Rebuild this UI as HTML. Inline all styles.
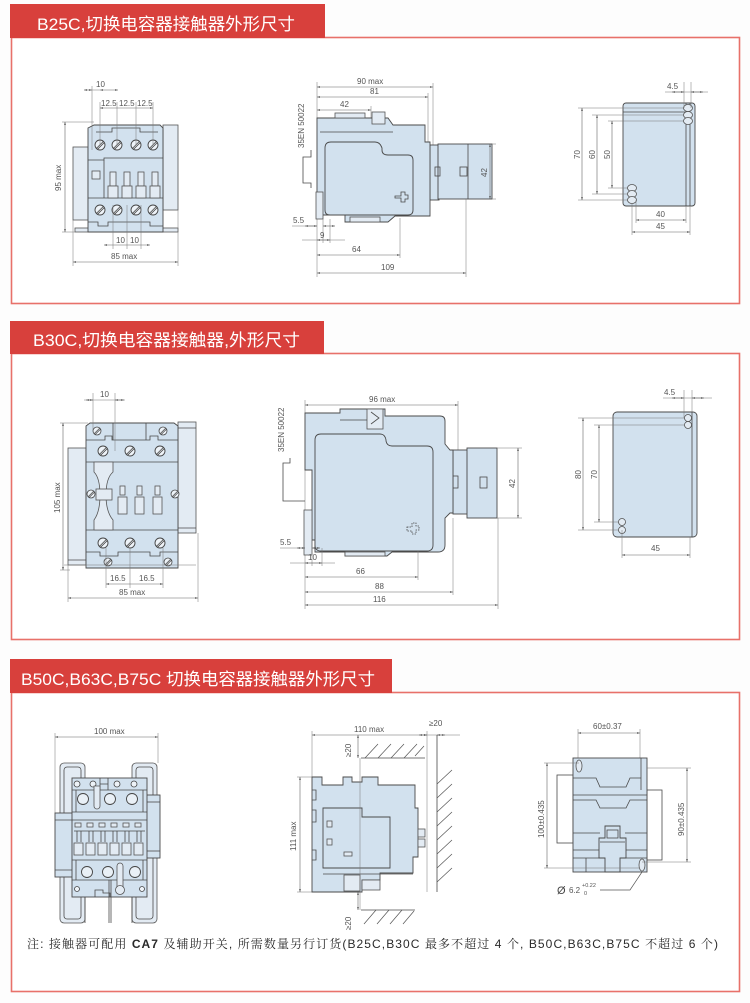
<!DOCTYPE html>
<html><head><meta charset="utf-8"><style>
html,body{margin:0;padding:0;background:#fff;}
svg{display:block;}
.b{fill:#d2e1ee;stroke:#4a4a4a;stroke-width:.9}
.g{fill:#e3ebf3;stroke:#555;stroke-width:.8}
.o{fill:none;stroke:#4a4a4a;stroke-width:.8}
.dm{stroke:#666;stroke-width:.6;fill:none;marker-start:url(#ar);marker-end:url(#ar)}
.ex{stroke:#777;stroke-width:.5;fill:none}
.h{stroke:#555;stroke-width:.7}
.t{font-family:"Liberation Sans",sans-serif;font-size:8px;fill:#555}
.hd{font-family:"Liberation Sans","Noto Sans CJK SC",sans-serif;font-size:17px;fill:#fff}
.nt{font-family:"Liberation Sans","Noto Serif CJK SC",serif;font-size:12px;fill:#2a2a2a}
</style></head><body>
<svg width="750" height="1003" viewBox="0 0 750 1003" xmlns="http://www.w3.org/2000/svg">
<defs>
<marker id="ar" viewBox="0 0 6 6" refX="6" refY="3" markerWidth="5" markerHeight="5" orient="auto-start-reverse"><path d="M0,1.2 L6,3 L0,4.8z" fill="#555"/></marker>
<g id="sc"><circle r="5" fill="#eef3f8" stroke="#444" stroke-width=".9"/><line x1="-3.6" y1="3.4" x2="3.4" y2="-3.6" stroke="#444" stroke-width=".8"/><line x1="-2.4" y1="4.2" x2="4.2" y2="-2.4" stroke="#444" stroke-width=".8"/></g>
<g id="ss"><circle r="4" fill="#eef3f8" stroke="#444" stroke-width=".8"/><line x1="-2.8" y1="2.6" x2="2.6" y2="-2.8" stroke="#444" stroke-width=".7"/><line x1="-1.8" y1="3.4" x2="3.4" y2="-1.8" stroke="#444" stroke-width=".7"/></g>
<g id="cc"><circle r="5.5" fill="#e9f0f6" stroke="#444" stroke-width=".9"/></g>
</defs>
<rect width="750" height="1003" fill="#fdfdfd"/>

<!-- ================= PANEL 1 ================= -->
<rect x="11.5" y="37.5" width="728" height="266" fill="#fff" stroke="#e8716a" stroke-width="1.6"/>
<rect x="10" y="4" width="315" height="34" fill="#d8403c"/>
<text class="hd" x="37" y="30" textLength="258" lengthAdjust="spacingAndGlyphs">B25C,切换电容器接触器外形尺寸</text>

<!-- P1 front view -->
<rect x="73" y="147" width="15" height="73" class="g"/>
<rect x="163" y="125" width="15" height="85" class="g"/>
<rect x="75" y="228" width="103" height="4" class="g"/>
<path class="b" d="M88,128 L94,125 H160 L163,128 V232 H88 Z"/>
<path class="o" d="M96,132 H112 V128 H140 V132 H158"/>
<path class="o" d="M88,160 H104 V158 H163"/>
<path class="o" d="M104,160 V198 M88,198 H163"/>
<rect x="92" y="171" width="8" height="8" class="g"/>
<use href="#sc" x="100" y="145"/><use href="#sc" x="117" y="145"/><use href="#sc" x="136" y="145"/><use href="#sc" x="153" y="145"/>
<g class="g">
<rect x="110" y="172" width="6" height="14"/><rect x="108" y="186" width="10" height="12"/>
<rect x="124" y="172" width="6" height="14"/><rect x="122" y="186" width="10" height="12"/>
<rect x="138" y="172" width="6" height="14"/><rect x="136" y="186" width="10" height="12"/>
<rect x="152" y="172" width="6" height="14"/><rect x="150" y="186" width="10" height="12"/>
</g>
<use href="#sc" x="100" y="210"/><use href="#sc" x="117" y="210"/><use href="#sc" x="136" y="210"/><use href="#sc" x="153" y="210"/>
<path class="o" d="M88,222 H98 V226 H108 V222 H150 V226 H163"/>
<!-- dims -->
<line class="ex" x1="92" y1="86" x2="92" y2="150"/><line class="ex" x1="100" y1="102" x2="100" y2="145"/>
<line class="ex" x1="117" y1="102" x2="117" y2="145"/><line class="ex" x1="136" y1="102" x2="136" y2="145"/><line class="ex" x1="153" y1="102" x2="153" y2="145"/>
<line class="dm" x1="84" y1="90" x2="92" y2="90"/><line class="dm" x1="118" y1="90" x2="100" y2="90"/>
<line class="ex" x1="92" y1="90" x2="100" y2="90"/>
<text class="t" x="96" y="87">10</text>
<line class="dm" x1="100" y1="108" x2="153" y2="108"/>
<text class="t" x="101" y="106">12.5</text><text class="t" x="119" y="106">12.5</text><text class="t" x="137" y="106">12.5</text>
<line class="ex" x1="62" y1="122" x2="94" y2="122"/><line class="ex" x1="62" y1="232" x2="75" y2="232"/>
<line class="dm" x1="65" y1="122" x2="65" y2="232"/>
<text class="t" transform="translate(61,191) rotate(-90)">95 max</text>
<line class="ex" x1="113" y1="205" x2="113" y2="249"/><line class="ex" x1="127" y1="205" x2="127" y2="249"/><line class="ex" x1="141" y1="205" x2="141" y2="249"/>
<line class="dm" x1="104" y1="245" x2="150" y2="245"/>
<text class="t" x="116" y="243">10</text><text class="t" x="130" y="243">10</text>
<line class="ex" x1="73" y1="220" x2="73" y2="266"/><line class="ex" x1="178" y1="210" x2="178" y2="266"/>
<line class="dm" x1="73" y1="262" x2="178" y2="262"/>
<text class="t" x="111" y="259">85  max</text>

<!-- P1 side view -->
<line class="ex" x1="317" y1="82" x2="317" y2="277"/>
<line class="dm" x1="317" y1="87" x2="433" y2="87"/><text class="t" x="357" y="84">90 max</text>
<line class="ex" x1="433" y1="83" x2="433" y2="148"/>
<line class="dm" x1="317" y1="97" x2="428" y2="97"/><text class="t" x="370" y="94">81</text>
<line class="ex" x1="428" y1="93" x2="428" y2="142"/>
<line class="dm" x1="317" y1="110" x2="371" y2="110"/><text class="t" x="340" y="107">42</text>
<line class="ex" x1="371" y1="106" x2="371" y2="142"/>
<text class="t" transform="translate(304,148) rotate(-90)">35EN 50022</text>
<path class="o" d="M311,150 V157 H303 V183 H311 V188"/>
<rect x="430" y="145" width="9" height="55" class="b"/>
<rect x="438" y="144" width="54" height="55" class="b"/>
<line class="o" x1="468" y1="144" x2="468" y2="199"/>
<rect x="460" y="167" width="7" height="9" class="o"/>
<rect x="435" y="167" width="5" height="9" class="o"/>
<path class="b" d="M317,118 H388 L393,125 H425 V142 H430 V216 H395 L388,222 H345 V215 H320 V205 H317 Z"/>
<rect x="335" y="113" width="30" height="5" class="g"/>
<rect x="372" y="112" width="13" height="12" class="g"/>
<line class="o" x1="320" y1="132" x2="393" y2="132"/>
<path class="b" d="M325,148 Q325,142 331,142 H375 Q380,142 382,148 V150 Q382,155 388,155 H408 Q413,155 413,160 V210 Q413,215 408,215 H330 Q325,215 325,210 Z"/>
<path class="o" d="M395,196 h6 v-4 h4 v3 h3 v4 h-3 v3 h-4 v-4 h-6 z"/>
<rect x="316" y="192" width="7" height="27" class="g"/>
<rect x="350" y="217" width="30" height="5" class="g"/>
<line class="ex" x1="492" y1="144" x2="496" y2="144"/><line class="ex" x1="492" y1="199" x2="496" y2="199"/>
<line class="dm" x1="490" y1="144" x2="490" y2="199"/>
<text class="t" transform="translate(487,177) rotate(-90)">42</text>
<line class="ex" x1="323" y1="219" x2="323" y2="243"/><line class="ex" x1="330" y1="219" x2="330" y2="243"/>
<line class="ex" x1="292" y1="226" x2="317" y2="226"/><line class="dm" x1="305" y1="226" x2="317" y2="226"/><line class="dm" x1="335" y1="226" x2="323" y2="226"/>
<text class="t" x="293" y="223">5.5</text>
<line class="ex" x1="302" y1="240" x2="345" y2="240"/><line class="dm" x1="317" y1="240" x2="330" y2="240"/>
<text class="t" x="320" y="238">9</text>
<line class="ex" x1="400" y1="218" x2="400" y2="258"/>
<line class="dm" x1="317" y1="255" x2="400" y2="255"/><text class="t" x="352" y="252">64</text>
<line class="ex" x1="466" y1="199" x2="466" y2="277"/>
<line class="dm" x1="317" y1="273" x2="466" y2="273"/><text class="t" x="381" y="270">109</text>

<!-- P1 mounting -->
<rect x="623" y="103" width="72" height="103" rx="3" class="b"/>
<line class="o" x1="686" y1="103" x2="686" y2="206"/><line class="o" x1="690" y1="103" x2="690" y2="206"/>
<line class="o" x1="623" y1="112" x2="686" y2="112"/>
<line class="ex" x1="578" y1="108" x2="688" y2="108"/><line class="ex" x1="592" y1="115" x2="688" y2="115"/><line class="ex" x1="608" y1="121" x2="688" y2="121"/>
<line class="ex" x1="608" y1="188" x2="632" y2="188"/><line class="ex" x1="592" y1="194" x2="632" y2="194"/><line class="ex" x1="578" y1="200" x2="632" y2="200"/>
<g class="g"><ellipse cx="688" cy="108" rx="4.5" ry="3.5"/><ellipse cx="688" cy="115" rx="4.5" ry="3.5"/><ellipse cx="688" cy="121" rx="4.5" ry="3.5"/>
<ellipse cx="632" cy="188" rx="4.5" ry="3.5"/><ellipse cx="632" cy="194" rx="4.5" ry="3.5"/><ellipse cx="632" cy="200" rx="4.5" ry="3.5"/></g>
<line class="dm" x1="582" y1="108" x2="582" y2="200"/><text class="t" transform="translate(580,159) rotate(-90)">70</text>
<line class="dm" x1="597" y1="115" x2="597" y2="194"/><text class="t" transform="translate(595,159) rotate(-90)">60</text>
<line class="dm" x1="612" y1="121" x2="612" y2="188"/><text class="t" transform="translate(610,159) rotate(-90)">50</text>
<line class="ex" x1="684" y1="82" x2="684" y2="108"/><line class="ex" x1="691" y1="82" x2="691" y2="108"/>
<line class="ex" x1="665" y1="92" x2="708" y2="92"/><line class="dm" x1="672" y1="92" x2="684" y2="92"/><line class="dm" x1="703" y1="92" x2="691" y2="92"/>
<text class="t" x="667" y="89">4.5</text>
<line class="ex" x1="636" y1="200" x2="636" y2="223"/><line class="ex" x1="686" y1="206" x2="686" y2="223"/>
<line class="dm" x1="636" y1="220" x2="686" y2="220"/><text class="t" x="656" y="217">40</text>
<line class="ex" x1="632" y1="204" x2="632" y2="235"/><line class="ex" x1="690" y1="206" x2="690" y2="235"/>
<line class="dm" x1="632" y1="232" x2="690" y2="232"/><text class="t" x="656" y="229">45</text>

<!-- ================= PANEL 2 ================= -->
<rect x="11.5" y="353.5" width="728" height="286" fill="#fff" stroke="#e8716a" stroke-width="1.6"/>
<rect x="10" y="321" width="314" height="33" fill="#d8403c"/>
<text class="hd" x="33" y="346" textLength="267" lengthAdjust="spacingAndGlyphs">B30C,切换电容器接触器,外形尺寸</text>

<!-- P2 front -->
<rect x="68" y="448" width="18" height="117" class="g"/>
<rect x="178" y="422" width="18" height="111" class="g"/>
<line class="o" x1="68" y1="560" x2="86" y2="560"/><line class="o" x1="178" y1="428" x2="196" y2="428"/><line class="o" x1="178" y1="528" x2="196" y2="528"/>
<path class="b" d="M86,426 L90,423 H174 L178,426 V568 H86 Z"/>
<path class="o" d="M86,440 H105 V436 H112 V440 H150 V436 H158 V440 H178"/>
<path class="o" d="M86,462 H178 M86,530 H178 M86,552 H100 V556 H118 V552 H150 V556 H160 V552 H178"/>
<path class="o" d="M113,423 V440 M146,423 V440"/>
<use href="#ss" x="97" y="431"/><use href="#ss" x="163" y="431"/>
<use href="#sc" x="103" y="451"/><use href="#sc" x="130" y="451"/><use href="#sc" x="160" y="451"/>
<path class="g" d="M94,462 H113 V472 Q106,478 106,495 Q106,512 113,520 V530 H94 V520 Q100,512 100,495 Q100,478 94,472 Z"/>
<rect x="96" y="489" width="16" height="11" class="g"/>
<use href="#ss" x="91" y="494"/><use href="#ss" x="175" y="494"/>
<g class="g">
<rect x="120" y="486" width="5" height="9"/><rect x="118" y="497" width="9" height="17"/>
<rect x="137" y="486" width="5" height="9"/><rect x="135" y="497" width="9" height="17"/>
<rect x="155" y="486" width="5" height="9"/><rect x="153" y="497" width="9" height="17"/>
</g>
<use href="#sc" x="103" y="543"/><use href="#sc" x="130" y="543"/><use href="#sc" x="160" y="543"/>
<use href="#ss" x="108" y="562"/><use href="#ss" x="168" y="562"/>
<line class="ex" x1="64" y1="565" x2="196" y2="565"/>
<!-- dims -->
<line class="ex" x1="93" y1="393" x2="93" y2="431"/><line class="ex" x1="115" y1="393" x2="115" y2="451"/>
<line class="ex" x1="84" y1="400" x2="125" y2="400"/><line class="dm" x1="86" y1="400" x2="93" y2="400"/><line class="dm" x1="124" y1="400" x2="115" y2="400"/>
<text class="t" x="100" y="397">10</text>
<line class="ex" x1="60" y1="423" x2="88" y2="423"/><line class="ex" x1="60" y1="570" x2="70" y2="570"/>
<line class="dm" x1="63" y1="423" x2="63" y2="570"/>
<text class="t" transform="translate(60,513) rotate(-90)">105 max</text>
<line class="ex" x1="106" y1="548" x2="106" y2="588"/><line class="ex" x1="130" y1="548" x2="130" y2="588"/><line class="ex" x1="163" y1="548" x2="163" y2="588"/>
<line class="dm" x1="106" y1="584" x2="163" y2="584"/>
<text class="t" x="110" y="581">16.5</text><text class="t" x="139" y="581">16.5</text>
<line class="ex" x1="68" y1="565" x2="68" y2="602"/><line class="ex" x1="198" y1="533" x2="198" y2="602"/>
<line class="dm" x1="68" y1="598" x2="198" y2="598"/>
<text class="t" x="119" y="595">85  max</text>

<!-- P2 side -->
<line class="ex" x1="305" y1="400" x2="305" y2="609"/>
<line class="dm" x1="305" y1="405" x2="458" y2="405"/><text class="t" x="369" y="402">96 max</text>
<line class="ex" x1="458" y1="401" x2="458" y2="450"/>
<text class="t" transform="translate(284,452) rotate(-90)">35EN 50022</text>
<path class="o" d="M290,458 V463 H283 V501 H305"/>
<rect x="453" y="450" width="15" height="64" class="b"/>
<rect x="467" y="448" width="30" height="70" class="b"/>
<rect x="480" y="477" width="7" height="11" class="o"/>
<rect x="453" y="476" width="5" height="12" class="o"/>
<path class="b" d="M305,413 H340 V409 H385 V416 H440 Q445,416 445,421 V444 L450,450 H453 V513 H450 L445,518 V545 Q445,552 438,552 H392 L387,556 H345 V552 H315 V540 H312 V470 H305 Z"/>
<rect x="367" y="409" width="16" height="20" class="g"/>
<path class="o" d="M371,412 l8,6 l-8,6 M340,420 H367"/>
<path class="b" d="M315,440 Q315,434 321,434 H380 Q385,434 386,440 V441 Q387,446 392,446 H427 Q433,446 433,452 V545 Q433,551 427,551 H321 Q315,551 315,545 Z"/>
<path class="o" d="M407,527 h5 v-4 h4 v3 h3 v4 h-3 v4 h-4 v-3 h-5 z" stroke-dasharray="1.5 1"/>
<rect x="304" y="510" width="8" height="45" class="g"/>
<rect x="345" y="552" width="40" height="4" class="g"/>
<line class="ex" x1="497" y1="448" x2="522" y2="448"/><line class="ex" x1="497" y1="518" x2="522" y2="518"/>
<line class="dm" x1="518" y1="448" x2="518" y2="518"/>
<text class="t" transform="translate(515,488) rotate(-90)">42</text>
<line class="ex" x1="312" y1="548" x2="312" y2="566"/><line class="ex" x1="322" y1="548" x2="322" y2="566"/>
<line class="ex" x1="280" y1="548" x2="305" y2="548"/><line class="dm" x1="297" y1="548" x2="305" y2="548"/><line class="dm" x1="320" y1="548" x2="312" y2="548"/>
<text class="t" x="280" y="545">5.5</text>
<line class="ex" x1="290" y1="563" x2="335" y2="563"/><line class="dm" x1="305" y1="563" x2="322" y2="563"/>
<text class="t" x="308" y="560">10</text>
<line class="ex" x1="418" y1="551" x2="418" y2="580"/>
<line class="dm" x1="305" y1="577" x2="418" y2="577"/><text class="t" x="356" y="574">66</text>
<line class="ex" x1="453" y1="518" x2="453" y2="595"/>
<line class="dm" x1="305" y1="592" x2="453" y2="592"/><text class="t" x="375" y="589">88</text>
<line class="ex" x1="498" y1="518" x2="498" y2="609"/>
<line class="dm" x1="305" y1="605" x2="498" y2="605"/><text class="t" x="373" y="602">116</text>

<!-- P2 mounting -->
<rect x="613" y="412" width="84" height="125" rx="4" class="b"/>
<line class="o" x1="692" y1="412" x2="692" y2="537"/>
<line class="ex" x1="578" y1="418" x2="688" y2="418"/><line class="ex" x1="594" y1="425" x2="688" y2="425"/>
<line class="ex" x1="594" y1="522" x2="622" y2="522"/><line class="ex" x1="578" y1="530" x2="622" y2="530"/>
<g class="g"><circle cx="688" cy="418" r="3.5"/><circle cx="688" cy="425" r="3.5"/><circle cx="622" cy="522" r="3.5"/><circle cx="622" cy="530" r="3.5"/></g>
<line class="dm" x1="583" y1="418" x2="583" y2="530"/><text class="t" transform="translate(581,479) rotate(-90)">80</text>
<line class="dm" x1="599" y1="425" x2="599" y2="522"/><text class="t" transform="translate(597,479) rotate(-90)">70</text>
<line class="ex" x1="684" y1="390" x2="684" y2="418"/><line class="ex" x1="692" y1="390" x2="692" y2="412"/>
<line class="ex" x1="663" y1="398" x2="712" y2="398"/><line class="dm" x1="672" y1="398" x2="684" y2="398"/><line class="dm" x1="704" y1="398" x2="692" y2="398"/>
<text class="t" x="664" y="395">4.5</text>
<line class="ex" x1="622" y1="530" x2="622" y2="558"/><line class="ex" x1="690" y1="537" x2="690" y2="558"/>
<line class="dm" x1="622" y1="555" x2="690" y2="555"/><text class="t" x="651" y="551">45</text>

<!-- ================= PANEL 3 ================= -->
<rect x="11.5" y="692.5" width="728" height="299" fill="#fff" stroke="#e8716a" stroke-width="1.6"/>
<rect x="10" y="659" width="382" height="34" fill="#d8403c"/>
<text class="hd" x="21" y="685" textLength="354" lengthAdjust="spacingAndGlyphs">B50C,B63C,B75C 切换电容器接触器外形尺寸</text>

<!-- P3 front -->
<line class="ex" x1="55" y1="733" x2="55" y2="813"/><line class="ex" x1="158" y1="733" x2="158" y2="763"/>
<line class="dm" x1="55" y1="737" x2="158" y2="737"/><text class="t" x="94" y="734">100 max</text>
<rect x="60" y="763" width="25" height="160" rx="4" class="g"/>
<rect x="64" y="767" width="17" height="152" rx="3" class="o"/>
<rect x="132" y="763" width="25" height="160" rx="4" class="g"/>
<rect x="136" y="767" width="17" height="152" rx="3" class="o"/>
<rect x="55" y="813" width="19" height="64" class="b"/>
<line class="o" x1="55" y1="820" x2="74" y2="820"/><line class="o" x1="55" y1="870" x2="74" y2="870"/>
<rect x="145" y="795" width="15" height="63" class="b"/>
<line class="o" x1="145" y1="802" x2="160" y2="802"/><line class="o" x1="145" y1="851" x2="160" y2="851"/>
<rect x="72" y="778" width="75" height="119" class="b"/>
<path class="o" d="M72,790 H147 M76,790 V812 M143,790 V812 M72,812 H147 M72,820 H147 M72,860 H147 M72,880 H147 M76,860 V880 M143,860 V880"/>
<path class="o" d="M100,778 V790 M108,778 V790 M100,784 H108"/>
<g fill="#eef3f8" stroke="#444" stroke-width=".8"><circle cx="77" cy="784" r="3"/><circle cx="93" cy="784" r="3"/><circle cx="117" cy="784" r="3"/><circle cx="134" cy="784" r="3"/></g>
<use href="#cc" x="83" y="799"/><use href="#cc" x="110" y="799"/><use href="#cc" x="132" y="799"/>
<path class="g" d="M94,786 V806 A3,3 0 0 0 100,806 V786 Z"/>
<g class="g"><rect x="75" y="823" width="6" height="4"/><rect x="87" y="823" width="6" height="4"/><rect x="99" y="823" width="6" height="4"/><rect x="111" y="823" width="6" height="4"/><rect x="123" y="823" width="6" height="4"/><rect x="135" y="823" width="6" height="4"/></g>
<path class="o" d="M74,831 H145 M77,831 V842 M81,831 V842 M89,831 V842 M93,831 V842 M101,831 V842 M105,831 V842 M113,831 V842 M117,831 V842 M125,831 V842 M129,831 V842 M137,831 V842 M141,831 V842"/>
<g class="g"><rect x="74" y="843" width="9" height="12"/><rect x="86" y="843" width="9" height="12"/><rect x="98" y="843" width="9" height="12"/><rect x="110" y="843" width="9" height="12"/><rect x="122" y="843" width="9" height="12"/><rect x="134" y="843" width="9" height="12"/></g>
<use href="#cc" x="87" y="872"/><use href="#cc" x="108" y="872"/><use href="#cc" x="135" y="872"/>
<path class="g" d="M117,890 V866 A3,3 0 0 1 123,866 V890 Z"/>
<circle cx="120" cy="890" r="4.5" class="g"/>
<g fill="#eef3f8" stroke="#444" stroke-width=".8"><circle cx="77" cy="889" r="2.5"/><circle cx="142" cy="889" r="2.5"/></g>
<path class="o" d="M95,897 V890 H103 V893 H110 V897"/>
<line class="o" x1="109" y1="880" x2="109" y2="923"/><line class="o" x1="111" y1="880" x2="111" y2="923"/>
<path class="o" d="M85,897 V923 M132,897 V923"/>

<!-- P3 side -->
<line class="ex" x1="312" y1="731" x2="312" y2="777"/><line class="ex" x1="427" y1="731" x2="427" y2="892"/>
<line class="dm" x1="312" y1="735" x2="427" y2="735"/><text class="t" x="354" y="732">110 max</text>
<line class="ex" x1="427" y1="735" x2="460" y2="735"/>
<line class="dm" x1="419" y1="735" x2="427" y2="735"/><line class="dm" x1="445" y1="735" x2="437" y2="735"/>
<text class="t" x="429" y="726">≥20</text>
<line class="o" x1="437" y1="735" x2="437" y2="892"/>
<g class="h">
<line x1="437" y1="784" x2="452" y2="770"/><line x1="437" y1="798" x2="452" y2="784"/><line x1="437" y1="812" x2="452" y2="798"/><line x1="437" y1="826" x2="452" y2="812"/><line x1="437" y1="840" x2="452" y2="826"/><line x1="437" y1="854" x2="452" y2="840"/><line x1="437" y1="868" x2="452" y2="854"/><line x1="437" y1="882" x2="452" y2="868"/>
</g>
<line class="o" x1="361" y1="758" x2="425" y2="758"/>
<g class="h"><line x1="365" y1="758" x2="378" y2="744"/><line x1="378" y1="758" x2="391" y2="744"/><line x1="391" y1="758" x2="404" y2="744"/><line x1="404" y1="758" x2="417" y2="744"/><line x1="415" y1="756" x2="424" y2="746"/></g>
<line class="dm" x1="358" y1="735" x2="358" y2="758"/>
<text class="t" transform="translate(351,757) rotate(-90)">≥20</text>
<line class="ex" x1="297" y1="777" x2="312" y2="777"/><line class="ex" x1="297" y1="892" x2="312" y2="892"/>
<line class="dm" x1="300" y1="777" x2="300" y2="892"/>
<text class="t" transform="translate(296,851) rotate(-90)">111 max</text>
<path class="b" d="M312,777 H322 V785 H343 V777 H352 V782 H362 V777 H378 V785 H415 V808 H418 V857 H413 V873 H380 V880 H362 V892 H312 Z"/>
<path class="o" d="M312,790 H316 V800 H312 M312,810 H316 V822 H312 M312,850 H316 V860 H312"/>
<path class="b" d="M323,808 H362 V817 H390 V868 H323 Z"/>
<line class="o" x1="323" y1="874" x2="413" y2="874"/>
<g class="g"><rect x="327" y="821" width="5" height="6"/><rect x="327" y="839" width="5" height="6"/><rect x="344" y="852" width="8" height="4"/></g>
<rect x="344" y="875" width="16" height="16" class="g"/>
<rect x="362" y="880" width="18" height="10" class="g"/>
<rect x="418" y="829" width="7" height="8" class="g"/><rect x="418" y="839" width="7" height="8" class="g"/>
<line class="ex" x1="360" y1="758" x2="360" y2="910"/>
<line class="o" x1="361" y1="910" x2="415" y2="910"/>
<g class="h"><line x1="364" y1="924" x2="376" y2="910"/><line x1="377" y1="924" x2="389" y2="910"/><line x1="390" y1="924" x2="402" y2="910"/><line x1="403" y1="924" x2="414" y2="911"/></g>
<line class="dm" x1="358" y1="892" x2="358" y2="910"/>
<text class="t" transform="translate(351,930) rotate(-90)">≥20</text>

<!-- P3 mounting -->
<line class="ex" x1="578" y1="729" x2="578" y2="760"/><line class="ex" x1="640" y1="729" x2="640" y2="760"/>
<line class="dm" x1="578" y1="733" x2="640" y2="733"/><text class="t" x="593" y="729">60±0.37</text>
<rect x="557" y="775" width="16" height="68" class="o"/>
<rect x="647" y="790" width="15" height="70" class="o"/>
<rect x="573" y="758" width="74" height="114" class="b"/>
<path class="o" d="M573,778 H596 L600,787 H626 L630,778 H641 M573,795 H647 M573,800 H596 L600,808 H626 L630,800 H647 M573,833 H600 M625,833 H647 M573,850 H600 M625,850 H647 M573,858 H647 M641,758 V790 M586,858 V872"/>
<path class="b" d="M605,826 H620 V838 H626 V858 H620 V872 H605 V858 H599 V838 H605 Z"/>
<rect x="607" y="830" width="11" height="8" class="o"/>
<path class="o" d="M600,842 H625"/>
<ellipse cx="579" cy="766" rx="3" ry="6" class="g"/>
<ellipse cx="642" cy="865" rx="3" ry="6" class="g"/>
<line class="ex" x1="544" y1="763" x2="579" y2="763"/><line class="ex" x1="544" y1="868" x2="640" y2="868"/>
<line class="dm" x1="547" y1="763" x2="547" y2="868"/>
<text class="t" transform="translate(544,838) rotate(-90)">100±0.435</text>
<line class="ex" x1="647" y1="768" x2="691" y2="768"/><line class="ex" x1="642" y1="862" x2="691" y2="862"/>
<line class="dm" x1="687" y1="768" x2="687" y2="862"/>
<text class="t" transform="translate(684,836) rotate(-90)">90±0.435</text>
<text x="557" y="894" font-family="Liberation Sans,sans-serif" font-size="11" fill="#444">Ø</text>
<text class="t" x="569" y="893">6.2</text>
<text x="582" y="887" font-family="Liberation Sans,sans-serif" font-size="5.5" fill="#555">+0.22</text>
<text x="584" y="895" font-family="Liberation Sans,sans-serif" font-size="5.5" fill="#555">0</text>
<path class="ex" d="M600,890 H630 L642,872" style="stroke:#555;stroke-width:.7"/>

<!-- Note -->
<text class="nt" x="27" y="948" textLength="691" lengthAdjust="spacing">注:  接触器可配用 <tspan font-weight="bold">CA7</tspan> 及辅助开关,  所需数量另行订货(B25C,B30C 最多不超过 4 个,  B50C,B63C,B75C 不超过 6 个)</text>
</svg>
</body></html>
